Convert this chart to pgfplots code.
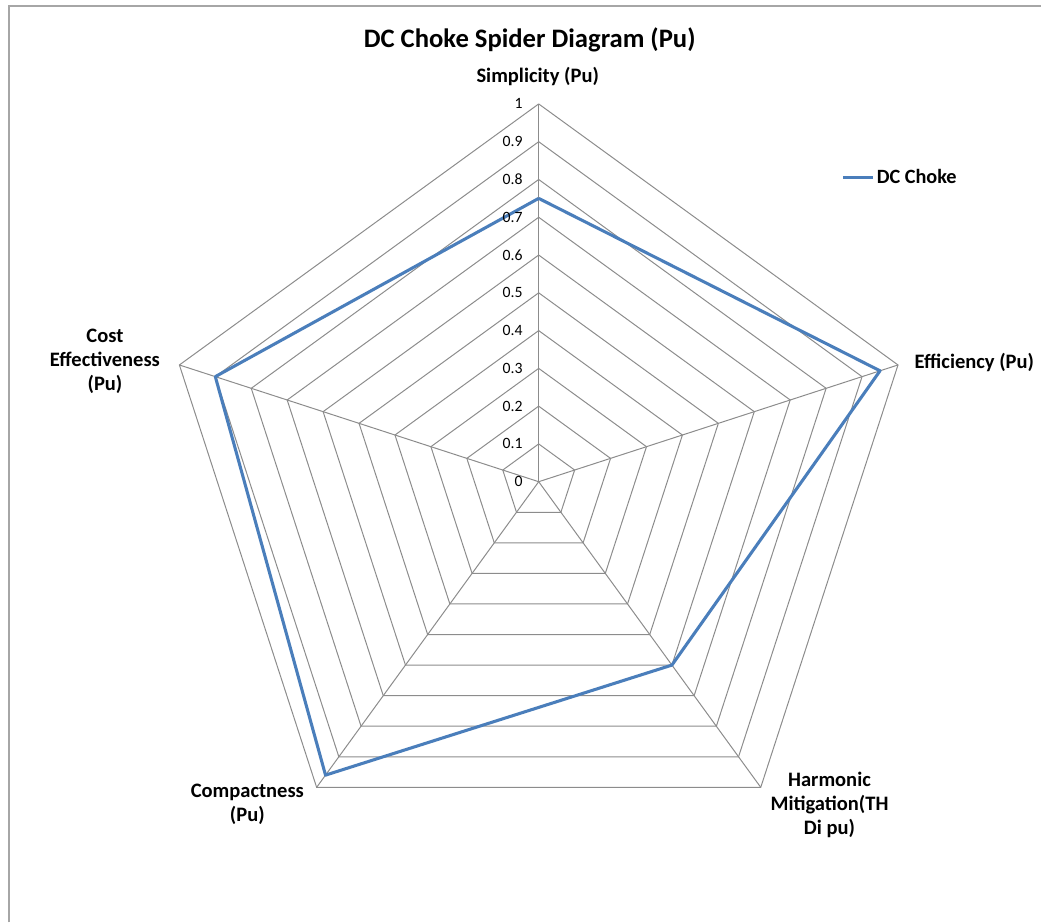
\documentclass[border=0pt]{standalone}
\usepackage{pgfplots}
\pgfplotsset{compat=1.18}
\usepackage{fontspec}
\setmainfont{Carlito}
\definecolor{series}{HTML}{4A7EBB}
\definecolor{gridc}{HTML}{8C8C8C}
\definecolor{framec}{HTML}{A6A6A6}

\begin{document}
\begin{tikzpicture}
% page area and chart frame
\path (0,0) rectangle (781.5pt,692.25pt);
\draw[framec, line width=0.9pt] (6.75pt,0pt) -- (6.75pt,687.75pt) -- (781.5pt,687.75pt);
\begin{axis}[
  at={(0pt,0pt)}, anchor=south west,
  scale only axis, width=781.5pt, height=692.25pt,
  xmin=-1.42593, xmax=1.33069, ymin=-1.16667, ymax=1.27513,
  hide axis, clip=false,
  legend style={at={(0.808,0.808)}, anchor=west, draw=none, fill=none,
    inner sep=0pt, nodes={inner sep=1.5pt},
    font=\bfseries\fontsize{15.2}{18}\selectfont},
  legend image code/.code={\draw[#1] (0pt,0pt) -- (22.5pt,0pt);},
]
% pentagon grid rings at 0.1 ... 1
\pgfplotsinvokeforeach{0.1,0.2,0.3,0.4,0.5,0.6,0.7,0.8,0.9,1}{
  \addplot[gridc, line width=0.75pt, data cs=polar, no marks, forget plot]
    coordinates {(90,#1) (18,#1) (-54,#1) (-126,#1) (162,#1) (90,#1)};
}
% spokes
\pgfplotsinvokeforeach{90,18,-54,-126,162}{
  \addplot[gridc, line width=0.75pt, data cs=polar, no marks, forget plot]
    coordinates {(#1,0) (#1,1)};
}
% DC Choke profile
\addplot[series, line width=2.3pt, data cs=polar, no marks, line join=round]
  coordinates {(90,0.75) (18,0.95) (-54,0.60) (-126,0.96) (162,0.90) (90,0.75)};
\addlegendentry{DC Choke}
% radial scale labels
\pgfplotsinvokeforeach{0,0.1,0.2,0.3,0.4,0.5,0.6,0.7,0.8,0.9,1}{
  \node[anchor=east, inner sep=0pt, font=\fontsize{11.8}{13}\selectfont]
    at (axis cs:-0.042,#1) {#1};
}
% title and category labels
\node[font=\bfseries\fontsize{20}{24}\selectfont] at (axis cs:-0.0238,1.1693) {DC Choke Spider Diagram (Pu)};
\begin{scope}[every node/.style={font=\bfseries\fontsize{15.4}{18}\selectfont, align=center}]
\node at (axis cs:-0.0026,1.0714) {Simplicity (Pu)};
\node[anchor=west, inner sep=0pt] at (axis cs:0.9947,0.3148) {Efficiency (Pu)};
\node at (axis cs:0.7698,-0.8545) {Harmonic\\Mitigation(TH\\Di pu)};
\node at (axis cs:-0.7712,-0.8545) {Compactness\\(Pu)};
\node at (axis cs:-1.1481,0.3175) {Cost\\Effectiveness\\(Pu)};
\end{scope}
\end{axis}
\end{tikzpicture}
\end{document}
